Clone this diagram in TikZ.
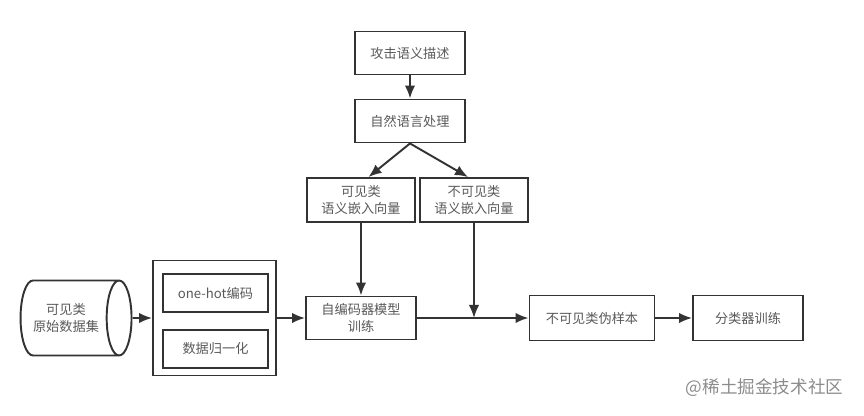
\documentclass[tikz,border=0pt]{standalone}
\usepackage{fontspec}
\setmainfont{Noto Sans CJK SC}
\usetikzlibrary{arrows,arrows.meta,shapes,positioning}

\tikzset{
  box/.style={rectangle,draw=black!80,line width=1.1pt,minimum width=2.2cm,
              minimum height=0.86cm,align=center,inner sep=1pt,
              font=\fontsize{7.5}{10}\selectfont,text=black!65},
  inbox/.style={box,minimum width=2.1cm,minimum height=0.76cm},
}

\begin{document}
\begin{tikzpicture}[->,>={Latex[length=2.6mm,width=2.1mm]},line width=1.1pt,draw=black!80]
  \useasboundingbox (0,0) rectangle (17.28,-8.32);

  \node[box]   (attack) at (8.2,-1.06)                 {攻击语义描述};
  \node[box]   (nlp)    [below of=attack,node distance=1.36cm] {自然语言处理};
  \node[box,minimum width=2.16cm,minimum height=0.88cm] (seen)
               [below of=nlp,node distance=1.58cm,xshift=-0.98cm] {可见类\\语义嵌入向量};
  \node[box,minimum width=2.16cm,minimum height=0.88cm] (unseen)
               [below of=nlp,node distance=1.58cm,xshift=1.28cm]  {不可见类\\语义嵌入向量};
  \node[box]   (train)  [below of=seen,node distance=2.36cm] {自编码器模型\\训练};
  \node[box,minimum width=2.5cm,minimum height=0.9cm] (fake) at (11.84,-6.36) {不可见类伪样本};
  \node[box,minimum height=0.9cm] (cls) [right of=fake,node distance=3.12cm] {分类器训练};

  \node[box,minimum width=2.46cm,minimum height=2.3cm] (prep) at (4.29,-6.36) {};
  \node[inbox] (onehot) at (4.31,-5.86) {one-hot编码};
  \node[inbox] (norm)   at (4.31,-6.98) {数据归一化};
  \node[cylinder,draw=black!80,line width=1.1pt,shape aspect=0.6,align=center,
        minimum width=1.5cm,minimum height=2.22cm,
        font=\fontsize{7.5}{10}\selectfont,text=black!65] (data) at (1.32,-6.36) {可见类\\原始数据集};

  \coordinate (join) at (unseen |- train);

  \path (attack) edge (nlp)
        (nlp.south) edge ([xshift=0.15cm]seen.north)
        (nlp.south) edge ([xshift=-0.12cm]unseen.north)
        (seen) edge (train)
        (unseen) edge (join)
        (data) edge (prep)
        (prep) edge (train)
        (train) edge (fake)
        (fake) edge (cls);

  \node[font=\fontsize{10}{12}\selectfont,text=black!45,anchor=east] (mark)
       at (17.0,-7.76) {@稀土掘金技术社区};
\end{tikzpicture}
\end{document}
